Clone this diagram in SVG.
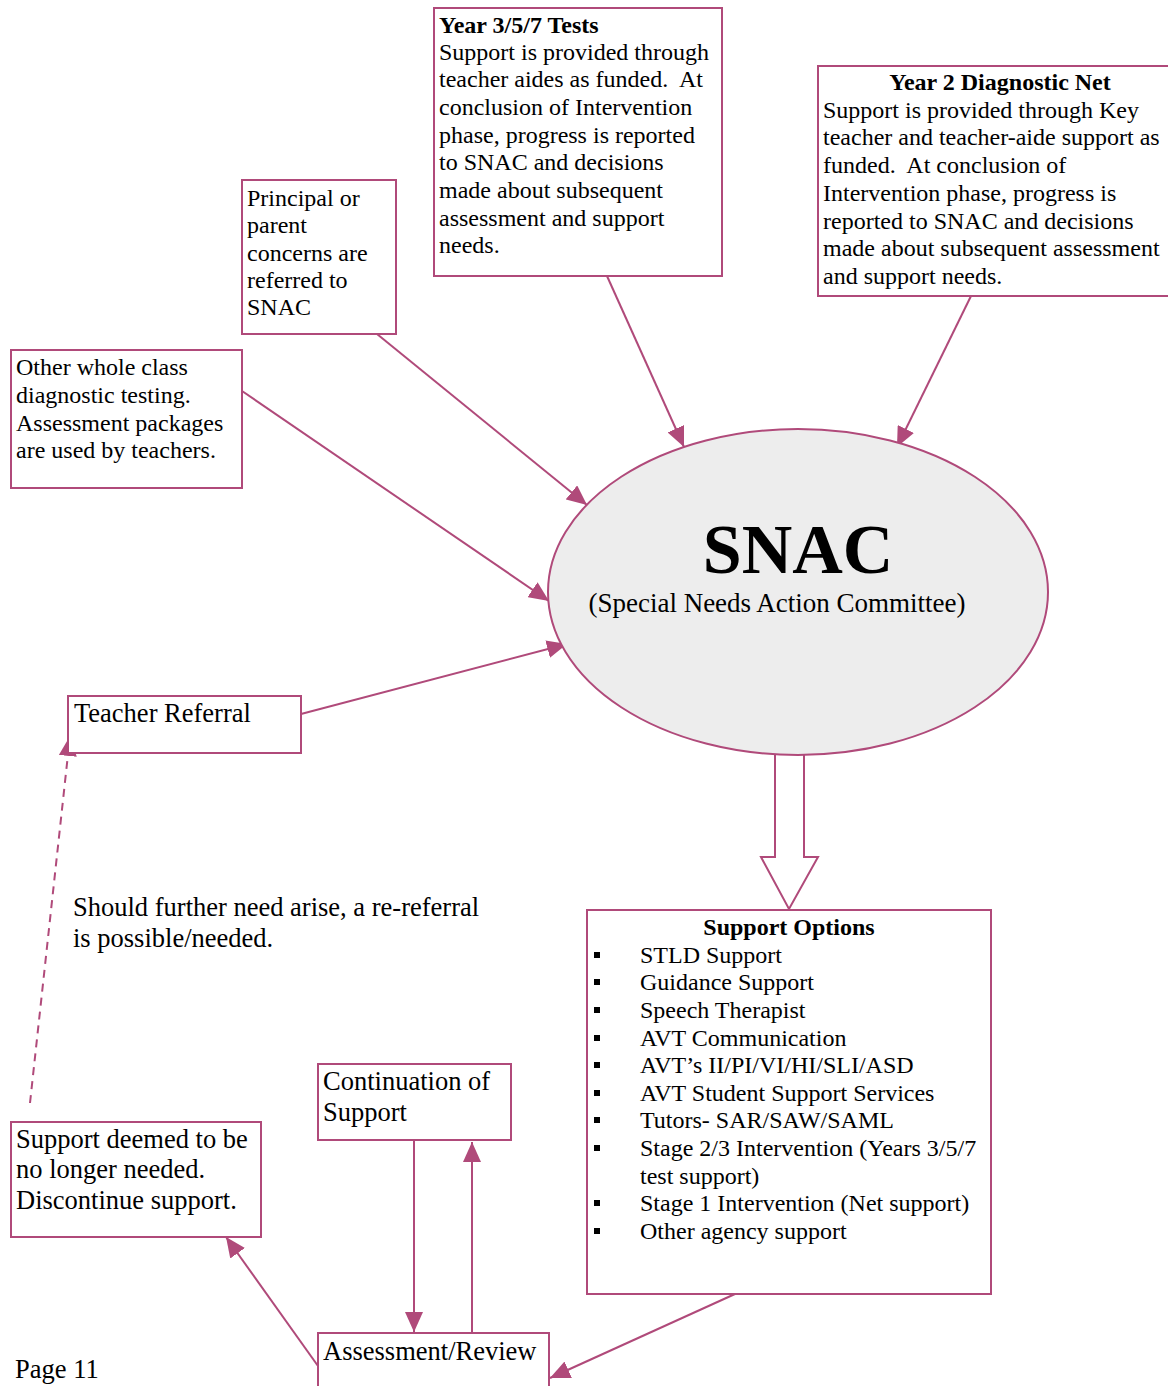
<svg xmlns="http://www.w3.org/2000/svg" width="1168" height="1386" viewBox="0 0 1168 1386">
<style>
.box{fill:#fff;stroke:#B04A7A;stroke-width:2}
.ln{stroke:#B04A7A;stroke-width:2;fill:none}
.t{font-family:"Liberation Serif","Times New Roman",serif;font-size:24px;fill:#000}
.t24{font-family:"Liberation Serif","Times New Roman",serif;font-size:26.5px;fill:#000}
.b{font-weight:bold}
</style>
<defs>
<marker id="ah" markerUnits="userSpaceOnUse" markerWidth="22" markerHeight="18" refX="20" refY="9" orient="auto">
<path d="M0,0 L20,9 L0,18 Z" fill="#B04A7A"/>
</marker>
</defs>
<rect width="1168" height="1386" fill="#fff"/>

<g id="connectors">
<line class="ln" x1="607" y1="276" x2="684" y2="447" marker-end="url(#ah)"/>
<line class="ln" x1="971" y1="296" x2="897" y2="447" marker-end="url(#ah)"/>
<line class="ln" x1="377" y1="334" x2="587" y2="505" marker-end="url(#ah)"/>
<line class="ln" x1="242" y1="391" x2="549" y2="601" marker-end="url(#ah)"/>
<line class="ln" x1="301" y1="714" x2="567" y2="644" marker-end="url(#ah)"/>
<line class="ln" x1="30" y1="1103" x2="70" y2="736" stroke-dasharray="8,6" marker-end="url(#ah)"/>
<line class="ln" x1="735" y1="1294" x2="550" y2="1378" marker-end="url(#ah)"/>
<line class="ln" x1="318" y1="1366" x2="226" y2="1237" marker-end="url(#ah)"/>
<line class="ln" x1="414" y1="1140" x2="414" y2="1332" marker-end="url(#ah)"/>
<line class="ln" x1="472" y1="1332" x2="472" y2="1142" marker-end="url(#ah)"/>
<path class="ln" d="M775,754 L775,857 L761,857 L789,909 L818,857 L804,857 L804,754" fill="#fff"/>
</g>

<g id="snac">
<ellipse cx="798" cy="592" rx="250" ry="163" fill="#EDEDED" stroke="#B04A7A" stroke-width="2"/>
<text class="t b" x="798" y="573" text-anchor="middle" style="font-size:70px">SNAC</text>
<text class="t24" x="777" y="612" text-anchor="middle" style="font-size:27px">(Special Needs Action Committee)</text>
</g>

<g id="year357">
<rect class="box" x="434" y="8" width="288" height="268"/>
<text class="t b" x="439" y="33">Year 3/5/7 Tests</text>
<text class="t" x="439" y="60">Support is provided through</text>
<text class="t" x="439" y="87" xml:space="preserve">teacher aides as funded.  At</text>
<text class="t" x="439" y="115">conclusion of Intervention</text>
<text class="t" x="439" y="143">phase, progress is reported</text>
<text class="t" x="439" y="170">to SNAC and decisions</text>
<text class="t" x="439" y="198">made about subsequent</text>
<text class="t" x="439" y="226">assessment and support</text>
<text class="t" x="439" y="253">needs.</text>
</g>

<g id="year2">
<rect class="box" x="818" y="66" width="352" height="230"/>
<text class="t b" x="1000" y="90" text-anchor="middle">Year 2 Diagnostic Net</text>
<text class="t" x="823" y="118">Support is provided through Key</text>
<text class="t" x="823" y="145">teacher and teacher-aide support as</text>
<text class="t" x="823" y="173" xml:space="preserve">funded.  At conclusion of</text>
<text class="t" x="823" y="201">Intervention phase, progress is</text>
<text class="t" x="823" y="229">reported to SNAC and decisions</text>
<text class="t" x="823" y="256">made about subsequent assessment</text>
<text class="t" x="823" y="284">and support needs.</text>
</g>

<g id="principal">
<rect class="box" x="242" y="180" width="154" height="154"/>
<text class="t" x="247" y="206">Principal or</text>
<text class="t" x="247" y="233">parent</text>
<text class="t" x="247" y="261">concerns are</text>
<text class="t" x="247" y="288">referred to</text>
<text class="t" x="247" y="315">SNAC</text>
</g>

<g id="otherwhole">
<rect class="box" x="11" y="350" width="231" height="138"/>
<text class="t" x="16" y="375">Other whole class</text>
<text class="t" x="16" y="403">diagnostic testing.</text>
<text class="t" x="16" y="431">Assessment packages</text>
<text class="t" x="16" y="458">are used by teachers.</text>
</g>

<g id="teacherreferral">
<rect class="box" x="68" y="696" width="233" height="57"/>
<text class="t24" x="74" y="722">Teacher Referral</text>
</g>

<g id="rereferral">
<text class="t24" x="73" y="916">Should further need arise, a re-referral</text>
<text class="t24" x="73" y="947">is possible/needed.</text>
</g>

<g id="supportoptions">
<rect class="box" x="587" y="910" width="404" height="384"/>
<text class="t b" x="789" y="935" text-anchor="middle">Support Options</text>
<g fill="#000">
<rect x="594" y="952" width="6" height="6"/>
<rect x="594" y="979" width="6" height="6"/>
<rect x="594" y="1007" width="6" height="6"/>
<rect x="594" y="1035" width="6" height="6"/>
<rect x="594" y="1062" width="6" height="6"/>
<rect x="594" y="1090" width="6" height="6"/>
<rect x="594" y="1117" width="6" height="6"/>
<rect x="594" y="1145" width="6" height="6"/>
<rect x="594" y="1200" width="6" height="6"/>
<rect x="594" y="1228" width="6" height="6"/>
</g>
<text class="t" x="640" y="963">STLD Support</text>
<text class="t" x="640" y="990">Guidance Support</text>
<text class="t" x="640" y="1018">Speech Therapist</text>
<text class="t" x="640" y="1046">AVT Communication</text>
<text class="t" x="640" y="1073">AVT’s II/PI/VI/HI/SLI/ASD</text>
<text class="t" x="640" y="1101">AVT Student Support Services</text>
<text class="t" x="640" y="1128">Tutors- SAR/SAW/SAML</text>
<text class="t" x="640" y="1156">Stage 2/3 Intervention (Years 3/5/7</text>
<text class="t" x="640" y="1184">test support)</text>
<text class="t" x="640" y="1211">Stage 1 Intervention (Net support)</text>
<text class="t" x="640" y="1239">Other agency support</text>
</g>

<g id="continuation">
<rect class="box" x="318" y="1064" width="193" height="76"/>
<text class="t24" x="323" y="1090">Continuation of</text>
<text class="t24" x="323" y="1121">Support</text>
</g>

<g id="discontinue">
<rect class="box" x="11" y="1122" width="250" height="115"/>
<text class="t24" x="16" y="1148">Support deemed to be</text>
<text class="t24" x="16" y="1178">no longer needed.</text>
<text class="t24" x="16" y="1209">Discontinue support.</text>
</g>

<g id="assessment">
<rect class="box" x="318" y="1333" width="231" height="60"/>
<text class="t24" x="323" y="1360">Assessment/Review</text>
</g>

<text class="t24" x="15" y="1378">Page 11</text>
</svg>
